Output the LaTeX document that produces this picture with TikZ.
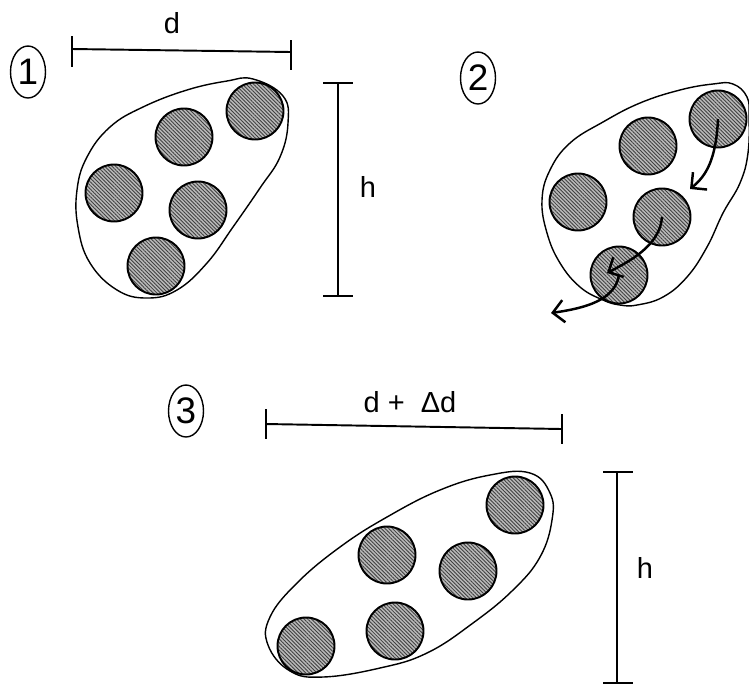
\documentclass[tikz,border=0pt]{standalone}
\usepackage{fontspec}
\setmainfont{Liberation Sans}
\usetikzlibrary{patterns.meta,shapes.geometric,arrows.meta}

\begin{document}
\begin{tikzpicture}[x=0.02cm,y=-0.02cm,
  ball/.style={circle,draw,line width=1.1pt,minimum size=1.14cm,inner sep=0pt,
    preaction={fill=gray!55},pattern={Lines[angle=-45,distance=1.5pt,line width=.5pt]},pattern color=black!75},
  blob/.style={draw,line width=.8pt},
  bar/.style={line width=1.1pt},
  tag/.style={ellipse,draw,line width=.8pt,inner sep=0pt,minimum width=.7cm,minimum height=1.04cm,
    font=\fontsize{21}{24}\selectfont},
  lbl/.style={anchor=base,font=\fontsize{16.5}{20}\selectfont},
  move/.style={line width=1.4pt,-{Straight Barb[angle=90:9pt]}}]
  \useasboundingbox (0,0) rectangle (749,684);

  % Panel 1
  \node[tag] (t1) at (28,72) {1};
  \draw[blob] plot[smooth cycle,tension=.7] coordinates {(253,79) (283,96) (288,123) (280,157)
    (260,188) (233,227) (207,263) (177,290) (147,298) (117,290) (90,263) (78,227) (77,190)
    (87,157) (110,127) (143,107) (187,90) (227,81)};
  \node[ball] (b11) at (255,111) {};
  \node[ball] (b12) at (184,137) {};
  \node[ball] (b13) at (114,193) {};
  \node[ball] (b14) at (198,210) {};
  \node[ball] (b15) at (156,266) {};

  \coordinate (d1) at (72,49);
  \coordinate (d2) at (291,52);
  \draw[bar] (d1) -- (d2);
  \draw[bar] (72,36) -- (72,67);
  \draw[bar] (291,40) -- (291,70);
  \node[lbl] (dl) at (172,33) {d};

  \coordinate (h1) at (338,83);
  \coordinate (h2) at (338,296);
  \draw[bar] (h1) -- (h2);
  \draw[bar] (323,83) -- (353,83);
  \draw[bar] (323,296) -- (353,296);
  \node[lbl] (hl) at (368,197) {h};

  % Panel 2
  \node[tag] (t2) at (478,78) {2};
  \draw[blob] plot[smooth cycle,tension=.7] coordinates {(733,84) (747,97) (749,117) (748,153)
    (740,183) (723,213) (707,247) (687,277) (663,297) (637,305) (620,305) (603,300) (580,287)
    (560,263) (547,233) (542,200) (550,170) (570,143) (603,122) (640,103) (680,90) (713,84)};
  \node[ball] (b21) at (718,119) {};
  \node[ball] (b22) at (648,146) {};
  \node[ball] (b23) at (578,202) {};
  \node[ball] (b24) at (662,217) {};
  \node[ball] (b25) at (619,275) {};

  \coordinate (m1) at (690,189);
  \coordinate (m2) at (607,273);
  \coordinate (m3) at (551,313);
  \draw[move] (b21.center) .. controls (716,160) and (706,176) .. (m1);
  \draw[move] (b24.center) .. controls (660,246) and (628,262) .. (m2);
  \draw[move] (b25.center) .. controls (615,300) and (586,308) .. (m3);

  % Panel 3
  \node[tag] (t3) at (186,411) {3};
  \draw[blob] plot[smooth cycle,tension=.7] coordinates {(530,473) (550,493) (552,520) (540,557)
    (513,590) (473,623) (427,653) (380,668) (323,677) (290,671) (268,645) (270,617) (297,583)
    (340,547) (387,517) (440,490) (490,475)};
  \node[ball] (b31) at (515,505) {};
  \node[ball] (b32) at (387,555) {};
  \node[ball] (b33) at (468,571) {};
  \node[ball] (b34) at (395,631) {};
  \node[ball] (b35) at (306,646) {};

  \coordinate (e1) at (266,424);
  \coordinate (e2) at (562,429);
  \draw[bar] (e1) -- (e2);
  \draw[bar] (266,409) -- (266,439);
  \draw[bar] (562,414) -- (562,444);
  \node[lbl] (el) at (410,412) {d +\ \ Δd};

  \coordinate (k1) at (617,472);
  \coordinate (k2) at (617,683);
  \draw[bar] (k1) -- (k2);
  \draw[bar] (603,472) -- (633,472);
  \draw[bar] (603,683) -- (633,683);
  \node[lbl] (kl) at (645,578) {h};
\end{tikzpicture}
\end{document}
